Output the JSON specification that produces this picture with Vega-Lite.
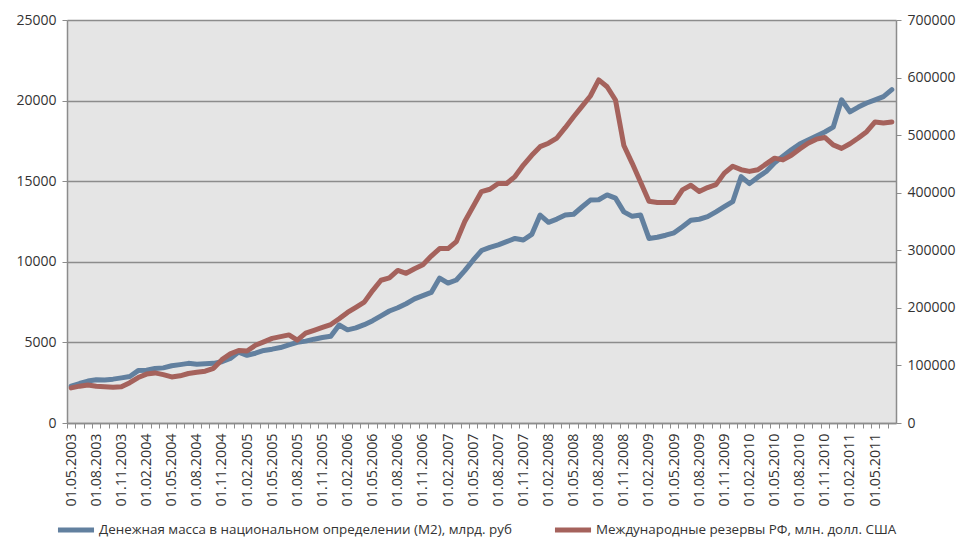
{
  "$schema": "https://vega.github.io/schema/vega-lite/v6.json",
  "autosize": {"type": "none"},
  "width": 829,
  "height": 403,
  "padding": {"left": 67, "top": 20, "right": 67, "bottom": 117},
  "background": "#ffffff",
  "config": {
    "view": {"fill": "#e5e5e5", "stroke": null},
    "font": "Open Sans",
    "axis": {"labelFont": "Open Sans", "labelColor": "#333333", "domainColor": "#8c8c8c", "tickColor": "#8c8c8c", "gridColor": "#8c8c8c"}
  },
  "data": {"values": [
    {"date": "01.05.2003", "m2": 2280, "res": 61000},
    {"date": "01.06.2003", "m2": 2450, "res": 64000},
    {"date": "01.07.2003", "m2": 2600, "res": 66000},
    {"date": "01.08.2003", "m2": 2680, "res": 64000},
    {"date": "01.09.2003", "m2": 2670, "res": 63000},
    {"date": "01.10.2003", "m2": 2720, "res": 62000},
    {"date": "01.11.2003", "m2": 2800, "res": 63000},
    {"date": "01.12.2003", "m2": 2880, "res": 70000},
    {"date": "01.01.2004", "m2": 3250, "res": 79000},
    {"date": "01.02.2004", "m2": 3270, "res": 85000},
    {"date": "01.03.2004", "m2": 3380, "res": 87000},
    {"date": "01.04.2004", "m2": 3420, "res": 84000},
    {"date": "01.05.2004", "m2": 3550, "res": 80000},
    {"date": "01.06.2004", "m2": 3620, "res": 82000},
    {"date": "01.07.2004", "m2": 3700, "res": 86000},
    {"date": "01.08.2004", "m2": 3640, "res": 88000},
    {"date": "01.09.2004", "m2": 3680, "res": 90000},
    {"date": "01.10.2004", "m2": 3700, "res": 95000},
    {"date": "01.11.2004", "m2": 3800, "res": 110000},
    {"date": "01.12.2004", "m2": 4000, "res": 120000},
    {"date": "01.01.2005", "m2": 4400, "res": 126000},
    {"date": "01.02.2005", "m2": 4200, "res": 125000},
    {"date": "01.03.2005", "m2": 4330, "res": 135000},
    {"date": "01.04.2005", "m2": 4500, "res": 141000},
    {"date": "01.05.2005", "m2": 4580, "res": 147000},
    {"date": "01.06.2005", "m2": 4680, "res": 150000},
    {"date": "01.07.2005", "m2": 4850, "res": 153000},
    {"date": "01.08.2005", "m2": 5000, "res": 144000},
    {"date": "01.09.2005", "m2": 5080, "res": 156000},
    {"date": "01.10.2005", "m2": 5200, "res": 161000},
    {"date": "01.11.2005", "m2": 5300, "res": 166000},
    {"date": "01.12.2005", "m2": 5380, "res": 171000},
    {"date": "01.01.2006", "m2": 6080, "res": 181000},
    {"date": "01.02.2006", "m2": 5780, "res": 192000},
    {"date": "01.03.2006", "m2": 5900, "res": 201000},
    {"date": "01.04.2006", "m2": 6100, "res": 210000},
    {"date": "01.05.2006", "m2": 6350, "res": 230000},
    {"date": "01.06.2006", "m2": 6650, "res": 248000},
    {"date": "01.07.2006", "m2": 6950, "res": 252000},
    {"date": "01.08.2006", "m2": 7150, "res": 265000},
    {"date": "01.09.2006", "m2": 7400, "res": 260000},
    {"date": "01.10.2006", "m2": 7700, "res": 268000},
    {"date": "01.11.2006", "m2": 7900, "res": 275000},
    {"date": "01.12.2006", "m2": 8100, "res": 290000},
    {"date": "01.01.2007", "m2": 8990, "res": 303000},
    {"date": "01.02.2007", "m2": 8680, "res": 303000},
    {"date": "01.03.2007", "m2": 8870, "res": 315000},
    {"date": "01.04.2007", "m2": 9450, "res": 350000},
    {"date": "01.05.2007", "m2": 10100, "res": 376000},
    {"date": "01.06.2007", "m2": 10700, "res": 402000},
    {"date": "01.07.2007", "m2": 10900, "res": 406000},
    {"date": "01.08.2007", "m2": 11050, "res": 416000},
    {"date": "01.09.2007", "m2": 11250, "res": 416000},
    {"date": "01.10.2007", "m2": 11450, "res": 428000},
    {"date": "01.11.2007", "m2": 11350, "res": 448000},
    {"date": "01.12.2007", "m2": 11700, "res": 465000},
    {"date": "01.01.2008", "m2": 12900, "res": 480000},
    {"date": "01.02.2008", "m2": 12450, "res": 486000},
    {"date": "01.03.2008", "m2": 12650, "res": 495000},
    {"date": "01.04.2008", "m2": 12900, "res": 513000},
    {"date": "01.05.2008", "m2": 12950, "res": 532000},
    {"date": "01.06.2008", "m2": 13400, "res": 550000},
    {"date": "01.07.2008", "m2": 13830, "res": 568000},
    {"date": "01.08.2008", "m2": 13850, "res": 596000},
    {"date": "01.09.2008", "m2": 14150, "res": 584000},
    {"date": "01.10.2008", "m2": 13950, "res": 561000},
    {"date": "01.11.2008", "m2": 13100, "res": 482000},
    {"date": "01.12.2008", "m2": 12820, "res": 451000},
    {"date": "01.01.2009", "m2": 12900, "res": 418000},
    {"date": "01.02.2009", "m2": 11450, "res": 385000},
    {"date": "01.03.2009", "m2": 11520, "res": 383000},
    {"date": "01.04.2009", "m2": 11650, "res": 383000},
    {"date": "01.05.2009", "m2": 11800, "res": 383000},
    {"date": "01.06.2009", "m2": 12180, "res": 405000},
    {"date": "01.07.2009", "m2": 12580, "res": 413000},
    {"date": "01.08.2009", "m2": 12640, "res": 402000},
    {"date": "01.09.2009", "m2": 12800, "res": 409000},
    {"date": "01.10.2009", "m2": 13100, "res": 414000},
    {"date": "01.11.2009", "m2": 13420, "res": 434000},
    {"date": "01.12.2009", "m2": 13730, "res": 446000},
    {"date": "01.01.2010", "m2": 15280, "res": 440000},
    {"date": "01.02.2010", "m2": 14850, "res": 437000},
    {"date": "01.03.2010", "m2": 15250, "res": 440000},
    {"date": "01.04.2010", "m2": 15600, "res": 450000},
    {"date": "01.05.2010", "m2": 16150, "res": 460000},
    {"date": "01.06.2010", "m2": 16550, "res": 457000},
    {"date": "01.07.2010", "m2": 16950, "res": 465000},
    {"date": "01.08.2010", "m2": 17300, "res": 476000},
    {"date": "01.09.2010", "m2": 17550, "res": 486000},
    {"date": "01.10.2010", "m2": 17800, "res": 493000},
    {"date": "01.11.2010", "m2": 18050, "res": 496000},
    {"date": "01.12.2010", "m2": 18350, "res": 483000},
    {"date": "01.01.2011", "m2": 20050, "res": 477000},
    {"date": "01.02.2011", "m2": 19300, "res": 485000},
    {"date": "01.03.2011", "m2": 19600, "res": 495000},
    {"date": "01.04.2011", "m2": 19850, "res": 506000},
    {"date": "01.05.2011", "m2": 20050, "res": 523000},
    {"date": "01.06.2011", "m2": 20250, "res": 521000},
    {"date": "01.07.2011", "m2": 20680, "res": 523000}
  ]},
  "encoding": {
    "x": {
      "field": "date", "type": "ordinal", "sort": null,
      "scale": {"type": "point", "padding": 0.5},
      "axis": {
        "title": null,
        "labelAngle": -90,
        "labelFontSize": 14.3,
        "labelExpr": "indexof(['02','05','08','11'], substring(datum.value, 3, 5)) >= 0 ? datum.value : ''",
        "labelOverlap": false,
        "labelPadding": 5,
        "tickSize": 5,
        "tickOffset": -4.19,
        "labelOffset": 4.19,
        "domainWidth": 1.5,
        "grid": false
      }
    }
  },
  "layer": [
    {
      "mark": {"type": "line", "strokeWidth": 5, "strokeJoin": "round", "strokeCap": "round"},
      "encoding": {
        "y": {
          "field": "m2", "type": "quantitative",
          "scale": {"domain": [0, 25000], "nice": false},
          "axis": {"title": null, "orient": "left", "values": [0, 5000, 10000, 15000, 20000, 25000], "format": "d", "labelFontSize": 14, "grid": true, "gridWidth": 1.5, "tickSize": 5, "labelPadding": 6, "domainWidth": 1.5}
        },
        "color": {
          "datum": "Денежная масса в национальном  определении (M2), млрд. руб",
          "type": "nominal",
          "scale": {
            "domain": ["Денежная масса в национальном  определении (M2), млрд. руб", "Международные резервы РФ, млн. долл. США"],
            "range": ["#62809f", "#a5625c"]
          },
          "legend": {
            "title": null,
            "orient": "none",
            "legendX": -12,
            "legendY": 489,
            "direction": "horizontal",
            "columns": 2,
            "symbolType": "stroke",
            "symbolSize": 1300,
            "symbolStrokeWidth": 5,
            "labelFont": "Open Sans",
            "labelFontSize": 13.4,
            "labelColor": "#333333",
            "labelLimit": 600,
            "labelOffset": 2,
            "columnPadding": 28
          }
        }
      }
    },
    {
      "mark": {"type": "line", "strokeWidth": 5, "strokeJoin": "round", "strokeCap": "round"},
      "encoding": {
        "y": {
          "field": "res", "type": "quantitative",
          "scale": {"domain": [0, 700000], "nice": false},
          "axis": {"title": null, "orient": "right", "values": [0, 100000, 200000, 300000, 400000, 500000, 600000, 700000], "format": "d", "labelFontSize": 14, "grid": false, "tickSize": 5, "labelPadding": 6, "domainWidth": 1.5}
        },
        "color": {"datum": "Международные резервы РФ, млн. долл. США", "type": "nominal"}
      }
    }
  ],
  "resolve": {"scale": {"y": "independent"}}
}
